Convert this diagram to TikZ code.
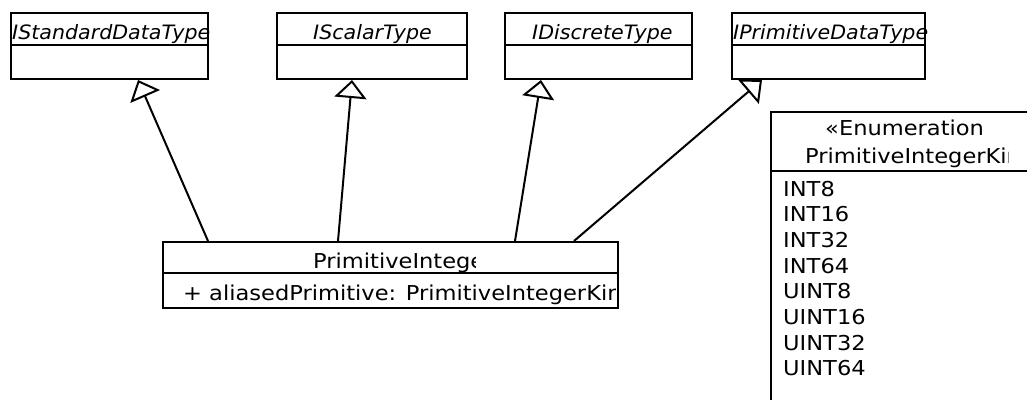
\documentclass[tikz,border=0pt]{standalone}
\usepackage{fontspec}
\setmainfont{DejaVu Sans}[FakeStretch=1.1]
\newfontfamily\obliquefont{DejaVu Sans Oblique}[FakeStretch=1.04]
\usetikzlibrary{arrows.meta}
\tikzset{
  cls/.style={draw, line width=2pt, rectangle, inner sep=0pt, anchor=north west},
  divider/.style={line width=2pt},
  lbl/.style={anchor=base west, inner sep=0pt, font=\fontsize{20.5}{24}\selectfont},
  ilbl/.style={anchor=base west, inner sep=0pt, font=\obliquefont\fontsize{19.8}{23}\selectfont},
  gen/.style={line width=2pt, -{Triangle[open, length=18pt, width=32pt, line width=2pt]}},
}
\begin{document}
\begin{tikzpicture}[x=1pt, y=-1pt]
\clip (0,0) rectangle (1027,399);
\useasboundingbox (0,0) rectangle (1027,399);
\fill[white] (0,0) rectangle (1027,399);

% interfaces
\node[cls, minimum width=197pt, minimum height=66pt] (b1) at (10,12) {};
\draw[divider] (10,45) -- (207,45);
\node[ilbl] (t1) at (12,39) {IStandardDataType};

\node[cls, minimum width=190pt, minimum height=66pt] (b2) at (276,12) {};
\draw[divider] (276,45) -- (468,45);
\node[ilbl] (t2) at (313,39) {IScalarType};

\node[cls, minimum width=187pt, minimum height=66pt] (b3) at (504,12) {};
\draw[divider] (504,45) -- (693,45);
\node[ilbl] (t3) at (532,39) {IDiscreteType};

\node[cls, minimum width=193pt, minimum height=66pt] (b4) at (731,12) {};
\draw[divider] (731,45) -- (924,45);
\node[ilbl] (t4) at (733,39) {IPrimitiveDataType};

% class
\node[cls, minimum width=455pt, minimum height=66pt] (m) at (162,241) {};
\draw[divider] (162,273) -- (619,273);
\begin{scope}
\clip (162,241) rectangle (475,273);
\node[lbl] (mt) at (313,268) {PrimitiveIntege};
\end{scope}
\begin{scope}
\clip (162,273) rectangle (615,307);
\node[lbl] (ma) at (183,300) {+ aliasedPrimitive: PrimitiveIntegerKind};
\end{scope}

% enumeration
\node[cls, minimum width=300pt, minimum height=310pt] (e) at (770,111) {};
\draw[divider] (770,171) -- (1027,171);
\begin{scope}
\clip (770,111) rectangle (982,171);
\node[lbl] (et1) at (825,135) {«Enumeration»};
\end{scope}
\begin{scope}
\clip (770,111) rectangle (1008,171);
\node[lbl] (et2) at (805,163) {PrimitiveIntegerKind};
\end{scope}
\foreach \t [count=\i from 0] in {INT8,INT16,INT32,INT64,UINT8,UINT16,UINT32,UINT64} {
  \node[lbl] (i\i) at (783,196+25.7*\i) {\t};
}

% generalizations
\draw[gen] ([xshift=46pt]m.north west) -- ([xshift=128pt]b1.south west);
\draw[gen] ([xshift=176pt]m.north west) -- ([xshift=76pt]b2.south west);
\draw[gen] ([xshift=353pt]m.north west) -- ([xshift=37pt]b3.south west);
\draw[gen] ([xshift=412pt]m.north west) -- ([xshift=31pt]b4.south west);
\end{tikzpicture}
\end{document}
